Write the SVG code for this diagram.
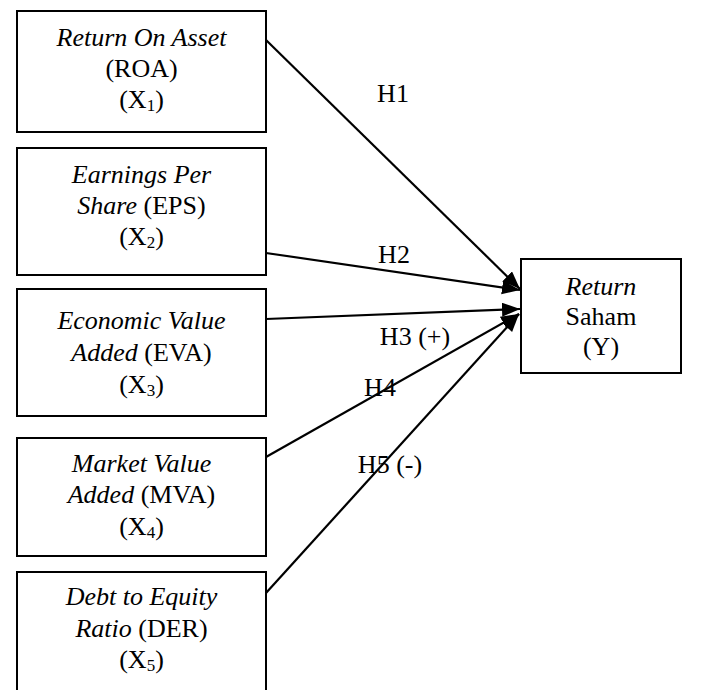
<svg xmlns="http://www.w3.org/2000/svg" width="707" height="690" viewBox="0 0 707 690">
<style>
.box{fill:#fff;stroke:#000;stroke-width:2}
.t{font-family:"Liberation Serif","Times New Roman",serif;font-size:26px;fill:#000;text-anchor:middle}
.i{font-style:italic}
.sub{font-size:17px}
.edge{stroke:#000;stroke-width:2.2;fill:none;marker-end:url(#ah)}
</style>
<defs>
<marker id="ah" markerUnits="userSpaceOnUse" markerWidth="20" markerHeight="16" refX="18" refY="7" orient="auto">
<path d="M0,0 L18,7 L0,14 z" fill="#000"/>
</marker>
</defs>
<rect width="707" height="690" fill="#fff"/>
<g id="connectors">
<line class="edge" x1="266" y1="40" x2="520" y2="289"/>
<line class="edge" x1="266" y1="253" x2="520" y2="290"/>
<line class="edge" x1="266" y1="319" x2="520" y2="309"/>
<line class="edge" x1="266" y1="457" x2="519" y2="314"/>
<line class="edge" x1="266" y1="593" x2="519" y2="314"/>
<text class="t" x="393" y="102">H1</text>
<text class="t" x="394" y="263">H2</text>
<text class="t" x="415" y="345">H3 (+)</text>
<text class="t" x="380" y="396">H4</text>
<text class="t" x="390" y="473">H5 (-)</text>
</g>
<g id="roa">
<rect class="box" x="17" y="11" width="249" height="121"/>
<text class="t" x="141.5" y="46"><tspan class="i">Return On Asset</tspan></text>
<text class="t" x="141.5" y="77">(ROA)</text>
<text class="t" x="141.5" y="108">(X<tspan class="sub" dy="3">1</tspan><tspan dy="-3">)</tspan></text>
</g>
<g id="eps">
<rect class="box" x="17" y="148" width="249" height="127"/>
<text class="t" x="141.5" y="183"><tspan class="i">Earnings Per</tspan></text>
<text class="t" x="141.5" y="214"><tspan class="i">Share</tspan> (EPS)</text>
<text class="t" x="141.5" y="245">(X<tspan class="sub" dy="3">2</tspan><tspan dy="-3">)</tspan></text>
</g>
<g id="eva">
<rect class="box" x="17" y="289" width="249" height="127"/>
<text class="t" x="141.5" y="329"><tspan class="i">Economic Value</tspan></text>
<text class="t" x="141.5" y="361"><tspan class="i">Added</tspan> (EVA)</text>
<text class="t" x="141.5" y="393">(X<tspan class="sub" dy="3">3</tspan><tspan dy="-3">)</tspan></text>
</g>
<g id="mva">
<rect class="box" x="17" y="438" width="249" height="118"/>
<text class="t" x="141.5" y="472"><tspan class="i">Market Value</tspan></text>
<text class="t" x="141.5" y="503"><tspan class="i">Added</tspan> (MVA)</text>
<text class="t" x="141.5" y="535">(X<tspan class="sub" dy="3">4</tspan><tspan dy="-3">)</tspan></text>
</g>
<g id="der">
<rect class="box" x="17" y="572" width="249" height="130"/>
<text class="t" x="141.5" y="605"><tspan class="i">Debt to Equity</tspan></text>
<text class="t" x="141.5" y="637"><tspan class="i">Ratio</tspan> (DER)</text>
<text class="t" x="141.5" y="668">(X<tspan class="sub" dy="3">5</tspan><tspan dy="-3">)</tspan></text>
</g>
<g id="return">
<rect class="box" x="521" y="259" width="160" height="114"/>
<text class="t" x="601" y="295"><tspan class="i">Return</tspan></text>
<text class="t" x="601" y="325">Saham</text>
<text class="t" x="601" y="355">(Y)</text>
</g>
</svg>
